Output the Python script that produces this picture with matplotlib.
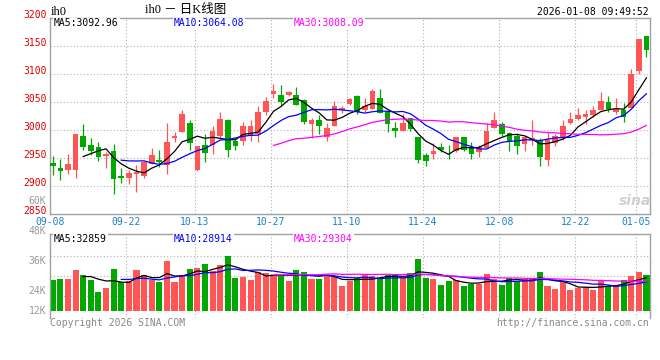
import numpy as np
import pandas as pd
import matplotlib
matplotlib.use("Agg")
import matplotlib.pyplot as plt
from matplotlib.transforms import blended_transform_factory as blend, offset_copy

plt.rcParams['font.family'] = ['DejaVu Sans Mono', 'Noto Sans CJK SC']

# daily OHLC, 09-08 .. 01-06
opens = [2941, 2933, 2928, 2928, 2990, 2974, 2970, 2953, 2963, 2918,
         2914, 2921, 2917, 2940, 2947, 2938, 2985, 2996, 3012, 2929,
         2973, 2973, 2990, 3017, 2981, 2980, 2990, 2992, 3033, 3065,
         3063, 3062, 3063, 3054, 3011, 3018, 2988, 3008, 3036, 3046,
         3060, 3036, 3037, 3057, 3033, 3004, 2999, 3021, 2988, 2956,
         2957, 2969, 2968, 2963, 2988, 2970, 2960, 2967, 3004, 3010,
         2994, 2990, 2975, 2982, 2983, 2946, 2977, 2985, 3012, 3020,
         3024, 3026, 3035, 3050, 3032, 3036, 3039, 3106, 3167]
highs = [2954, 2949, 2958, 2992, 3010, 2985, 2978, 2960, 2975, 2933,
         2929, 2937, 2944, 2967, 2965, 3012, 2996, 3036, 3017, 2972,
         2992, 3008, 3033, 3019, 2986, 3015, 3018, 3042, 3059, 3082,
         3081, 3069, 3077, 3056, 3021, 3026, 3013, 3051, 3043, 3057,
         3063, 3057, 3073, 3073, 3033, 3015, 3029, 3021, 2988, 2959,
         2976, 2976, 2973, 2988, 2988, 2979, 2973, 3012, 3033, 3014,
         2996, 2994, 2990, 3017, 2985, 2997, 2992, 3017, 3033, 3040,
         3036, 3042, 3068, 3061, 3057, 3049, 3109, 3162, 3167]
lows = [2920, 2911, 2921, 2914, 2964, 2956, 2944, 2933, 2885, 2905,
        2904, 2889, 2915, 2939, 2934, 2922, 2978, 2996, 2965, 2926,
        2943, 2957, 2988, 2951, 2965, 2973, 2980, 2978, 3026, 3057,
        3045, 3060, 3045, 3010, 2986, 2992, 2980, 3008, 3030, 3045,
        3028, 3033, 3037, 3030, 2996, 2988, 2999, 2998, 2941, 2935,
        2948, 2961, 2948, 2961, 2962, 2949, 2951, 2967, 3004, 2990,
        2963, 2958, 2962, 2974, 2936, 2936, 2972, 2983, 3011, 3017,
        3011, 3024, 3035, 3033, 3029, 3015, 3039, 3100, 3131]
closes = [2936, 2926, 2940, 2992, 2969, 2962, 2951, 2958, 2913, 2914,
          2923, 2925, 2942, 2955, 2943, 2978, 2990, 3029, 2977, 2971,
          2959, 2999, 3020, 2964, 2971, 3007, 3008, 3032, 3051, 3069,
          3050, 3067, 3045, 3015, 3018, 3008, 3004, 3043, 3039, 3055,
          3032, 3043, 3069, 3030, 3010, 2998, 3012, 3001, 2946, 2944,
          2962, 2964, 2967, 2988, 2964, 2957, 2969, 2999, 3017, 2992,
          2981, 2971, 2987, 2986, 2952, 2983, 2989, 3008, 3020, 3027,
          3029, 3036, 3052, 3037, 3037, 3024, 3100, 3162, 3143]
volumes = [28400, 28800, 28800, 32400, 30400, 28500, 23600, 25200, 32800, 27600,
           28000, 32400, 30400, 28400, 27600, 36000, 27600, 30400, 32800, 33200,
           34800, 32000, 34400, 38000, 29200, 29700, 28400, 31700, 31200, 30400,
           30000, 28000, 32400, 31600, 28800, 28800, 30000, 29700, 26100, 28000,
           29200, 30400, 30000, 28800, 30400, 30400, 29600, 31200, 36800, 29200,
           28800, 26400, 28000, 28400, 26000, 26800, 26800, 30800, 28800, 26400,
           29200, 28000, 28800, 29200, 31600, 26000, 24800, 27600, 24400, 25200,
           25600, 24400, 28400, 26000, 26400, 28400, 30000, 31600, 30400]

date_pos = [0, 10, 19, 29, 39, 49, 59, 69, 77]
date_labels = ['09-08', '09-22', '10-13', '10-27', '11-10', '11-24', '12-08', '12-22', '01-05']
price_ticks = [2850, 2900, 2950, 3000, 3050, 3100, 3150, 3200]
vol_ticks = [60000, 48000, 36000, 24000]
vol_tick_labels = ['60K', '48K', '36K', '24K']

RED = '#ff5555'
GREEN = '#00a800'
GRID = '#b0b0b0'
FRAME = '#a0a0a0'
DATE_C = '#1a80c8'
W, H = 660, 360


def rect(x0, y0, x1, y1):
    return [x0 / W, 1 - y1 / H, (x1 - x0) / W, (y1 - y0) / H]


def ftext(x, y, s, **kw):
    return fig.text(x / W, 1 - y / H, s, **kw)


o = np.array(opens, float)
h = np.array(highs, float)
l = np.array(lows, float)
c = np.array(closes, float)
v = np.array(volumes, float)
n = len(c)
x = np.arange(n)
up = c >= o
cols = np.where(up, RED, GREEN)
off = 0.36

fig = plt.figure(figsize=(6.6, 3.6), dpi=100)
ax = fig.add_axes(rect(50, 18, 649.5, 214))
axv = fig.add_axes(rect(50, 234, 649.5, 318))

# price panel
ax.set_xlim(-off, n - 0.6)
ax.set_ylim(2850, 3200)
ax.hlines(price_ticks[1:-1], -off, n, colors=GRID, lw=0.8, linestyles=(0, (1, 2)), zorder=0)
ax.vlines(np.array(date_pos[1:]) - off, 2850, 3200, colors=GRID, lw=0.8, linestyles=(0, (1, 2)), zorder=0)
ax.vlines(x, l, h, colors=cols, lw=0.9, zorder=2)
body = np.maximum(np.abs(c - o), 1.4)
ax.bar(x, body, bottom=np.minimum(o, c), width=0.74, color=cols, zorder=3)

cs = pd.Series(c)
ax.plot(x, cs.rolling(5).mean(), color='black', lw=0.9, zorder=4)
ax.plot(x, cs.rolling(10).mean(), color='#0000ff', lw=0.9, zorder=4)
ax.plot(x, cs.rolling(30).mean(), color='#ff00ff', lw=0.9, zorder=4)

tr = offset_copy(blend(ax.transAxes, ax.transData), fig=fig, y=2.5, units='dots')
for p in price_ticks:
    ax.text(-0.006, p, str(p), transform=tr, ha='right', va='center',
            color='#e00000', fontsize=7)
trd = blend(ax.transData, ax.transAxes)
for pos, lab in zip(date_pos, date_labels):
    ax.text(pos - off, -0.04, lab, transform=trd, ha='center', va='center',
            color=DATE_C, fontsize=7)

# volume panel
base = 16000
axv.set_xlim(-off, n - 0.6)
axv.set_ylim(13200, 46800)
axv.hlines([38000, 30000, 22000], -off, n, colors=GRID, lw=0.8, linestyles=(0, (1, 2)), zorder=0)
axv.vlines(np.array(date_pos[1:]) - off, 13200, 46800, colors=GRID, lw=0.8, linestyles=(0, (1, 2)), zorder=0)
axv.bar(x, v - base, bottom=base, width=0.8, color=cols, zorder=2)
vs = pd.Series(v)
axv.plot(x, vs.rolling(5).mean(), color='black', lw=0.9, zorder=4)
axv.plot(x, vs.rolling(10).mean(), color='#0000ff', lw=0.9, zorder=4)
axv.plot(x, vs.rolling(30).mean(), color='#ff00ff', lw=0.9, zorder=4)

trv = blend(axv.transAxes, axv.transData)
for val, lab in zip(vol_ticks, vol_tick_labels):
    axv.text(-0.006, val, lab, transform=trv, ha='right', va='center',
             color='#999999', fontsize=7)
axv.text(-0.006, base, '12K', transform=trv, ha='right', va='center',
         color='#999999', fontsize=7)

for a in (ax, axv):
    a.set_xticks([])
    a.set_yticks([])
    for s in a.spines.values():
        s.set_color(FRAME)
        s.set_linewidth(1)
axv.spines['bottom'].set_visible(False)

# header texts
ftext(51, 12, 'ih0', ha='left', va='center', fontsize=9,
      family=['Liberation Serif', 'Noto Sans CJK SC'])
ftext(186, 9.5, 'ih0 － 日K线图', ha='center', va='center', fontsize=9,
      family=['Liberation Serif', 'Noto Sans CJK SC'])
ftext(649, 12, '2026-01-08 09:49:52', ha='right', va='center', fontsize=7)

box = dict(facecolor='white', edgecolor='none', pad=0.6)
ftext(54, 23.5, 'MA5:3092.96', ha='left', va='center', fontsize=7, color='black', bbox=box)
ftext(174, 23.5, 'MA10:3064.08', ha='left', va='center', fontsize=7, color='#0000ff', bbox=box)
ftext(294, 23.5, 'MA30:3008.09', ha='left', va='center', fontsize=7, color='#ff00ff', bbox=box)
ftext(54, 238.5, 'MA5:32859', ha='left', va='center', fontsize=7, color='black', bbox=box)
ftext(174, 238.5, 'MA10:28914', ha='left', va='center', fontsize=7, color='#0000ff', bbox=box)
ftext(294, 238.5, 'MA30:29304', ha='left', va='center', fontsize=7, color='#ff00ff', bbox=box)

ftext(50, 323.5, 'Copyright 2026 SINA.COM', ha='left', va='center', fontsize=7, color='#888888')
ftext(649, 323.5, 'http://finance.sina.com.cn', ha='right', va='center', fontsize=7, color='#888888')
ftext(635, 201, 'sina', ha='center', va='center', fontsize=10, color='#d0d0d0',
      family='DejaVu Sans', style='italic', weight='bold')

fig.savefig('out.png', dpi=100)
